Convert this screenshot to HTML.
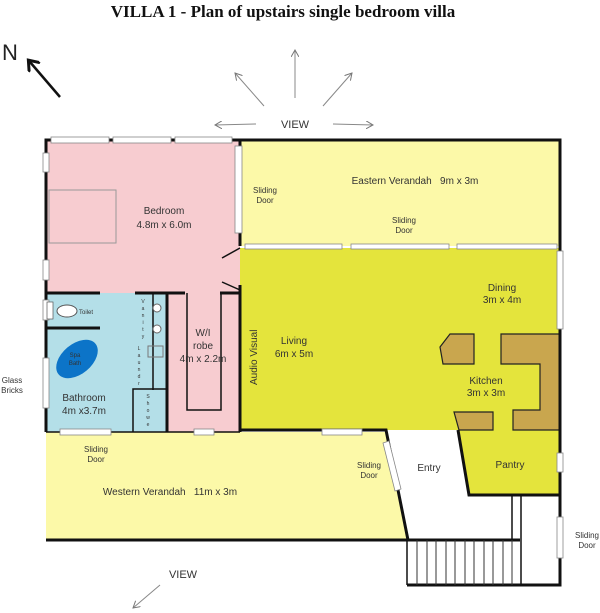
<!DOCTYPE html>
<html><head><style>
body{margin:0;background:#fff}
svg{display:block}
text{font-family:"Liberation Sans",sans-serif;fill:#333}
</style></head><body>
<svg width="600" height="613" viewBox="0 0 600 613">
<defs><marker id="a" markerWidth="8" markerHeight="8" refX="7" refY="4" orient="auto"><path d="M0,0 L7,4 L0,8" fill="none" stroke="#777" stroke-width="1"/></marker>
<marker id="b" markerWidth="6" markerHeight="6" refX="3" refY="3" orient="auto"><path d="M0,0 L4,3 L0,6" fill="none" stroke="#111" stroke-width="1.2"/></marker></defs>
<text x="283" y="17" text-anchor="middle" style="font-family:'Liberation Serif',serif;font-weight:bold;font-size:17px;fill:#111">VILLA 1 - Plan of upstairs single bedroom villa</text>
<text x="2" y="60" style="font-size:22px;fill:#222">N</text>
<line x1="60" y1="97" x2="30" y2="62" stroke="#111" stroke-width="2.5" marker-end="url(#b)"/>
<g stroke="#888" stroke-width="1" fill="none">
<line x1="295" y1="98" x2="295" y2="50" marker-end="url(#a)"/>
<line x1="264" y1="106" x2="235" y2="73" marker-end="url(#a)"/>
<line x1="323" y1="106" x2="352" y2="73" marker-end="url(#a)"/>
<line x1="256" y1="124" x2="215" y2="125" marker-end="url(#a)"/>
<line x1="333" y1="124" x2="373" y2="125" marker-end="url(#a)"/>
<line x1="160" y1="585" x2="133" y2="608" marker-end="url(#a)"/>
</g>
<text x="295" y="128" text-anchor="middle" font-size="11">VIEW</text>
<text x="183" y="578" text-anchor="middle" font-size="11">VIEW</text>
<!-- fills -->
<rect x="240" y="140" width="320" height="106" fill="#fcf9a8"/>
<rect x="46" y="140" width="194" height="153" fill="#f7ccd0"/>
<rect x="167" y="293" width="73" height="139" fill="#f7ccd0"/>
<rect x="46" y="293" width="121" height="139" fill="#b4dfe8"/>
<polygon points="240,248 560,248 560,430 240,430" fill="#e4e43c"/>
<polygon points="458,430 560,430 560,495 469,495" fill="#e4e43c"/>
<polygon points="386,432 458,430 469,495 512,495 512,540 408,540" fill="#fff"/>
<polygon points="46,432 386,432 408,540 46,540" fill="#fcf9a8"/>
<!-- benches -->
<g fill="#c9a64e" stroke="#222" stroke-width="1.2">
<polygon points="440,347 450,334 474,334 474,364 443,364"/>
<polygon points="501,334 560,334 560,430 513,430 513,410 540,410 540,364 501,364"/>
<polygon points="454,412 493,412 493,430 459,430"/>
</g>
<!-- walls -->
<g stroke="#111" fill="none" stroke-width="3">
<polyline points="46,432 46,140 560,140 560,585 407,585"/>
<line x1="240" y1="140" x2="240" y2="246"/>
<line x1="240" y1="285" x2="240" y2="432"/>
<line x1="46" y1="293" x2="100" y2="293"/>
<line x1="135" y1="293" x2="185" y2="293"/>
<line x1="167" y1="293" x2="167" y2="432"/>
<line x1="220" y1="293" x2="240" y2="293"/>
<line x1="46" y1="328" x2="100" y2="328"/>
<polyline points="240,430 386,430 408,540"/>
<polyline points="458,430 469,495 560,495" />
<line x1="46" y1="540" x2="520" y2="540"/>
</g>
<g stroke="#111" stroke-width="1.5" fill="none">
<line x1="46" y1="432" x2="240" y2="432"/>
<line x1="222" y1="258" x2="240" y2="248"/>
<line x1="222" y1="282" x2="240" y2="290"/>
<polyline points="187,293 187,410 221,410 221,293"/>
<line x1="153" y1="293" x2="153" y2="390"/>
<polyline points="133,432 133,389 167,389"/>
<line x1="512" y1="495" x2="512" y2="540"/>
<line x1="521" y1="495" x2="521" y2="585"/>
<rect x="49" y="190" width="67" height="53" stroke="#999" stroke-width="1"/>
<rect x="148" y="346" width="15" height="11" stroke="#777" stroke-width="1"/>
<line x1="407" y1="540" x2="407" y2="585"/>
</g>
<g stroke="#333" stroke-width="1">
<line x1="417" y1="540" x2="417" y2="585"/><line x1="427" y1="540" x2="427" y2="585"/><line x1="436" y1="540" x2="436" y2="585"/><line x1="446" y1="540" x2="446" y2="585"/><line x1="455" y1="540" x2="455" y2="585"/><line x1="465" y1="540" x2="465" y2="585"/><line x1="474" y1="540" x2="474" y2="585"/><line x1="484" y1="540" x2="484" y2="585"/><line x1="493" y1="540" x2="493" y2="585"/><line x1="503" y1="540" x2="503" y2="585"/><line x1="512" y1="540" x2="512" y2="585"/>
</g>
<!-- windows -->
<g fill="#fff" stroke="#888" stroke-width="0.8">
<rect x="51" y="137" width="58" height="6"/><rect x="113" y="137" width="58" height="6"/><rect x="175" y="137" width="57" height="6"/>
<rect x="43" y="153" width="6" height="19"/><rect x="43" y="260" width="6" height="20"/><rect x="43" y="300" width="6" height="20"/><rect x="43" y="358" width="6" height="50"/>
<rect x="235" y="146" width="7" height="87"/>
<rect x="245" y="244" width="97" height="5"/><rect x="351" y="244" width="98" height="5"/><rect x="457" y="244" width="100" height="5"/>
<rect x="557" y="251" width="6" height="78"/><rect x="557" y="453" width="6" height="19"/><rect x="557" y="517" width="6" height="41"/>
<rect x="60" y="429" width="51" height="6"/><rect x="194" y="429" width="20" height="6"/><rect x="322" y="429" width="40" height="6"/>
<polygon points="383,443 389,441 401,489 395,491"/>
</g>
<ellipse cx="67" cy="311" rx="10" ry="6" fill="#fff" stroke="#555"/>
<rect x="47" y="302" width="6" height="17" fill="#fff" stroke="#555" stroke-width="0.7"/>
<circle cx="157" cy="308" r="4" fill="#fff" stroke="#666"/><circle cx="157" cy="329" r="4" fill="#fff" stroke="#666"/>
<ellipse cx="77" cy="359" rx="24" ry="15" transform="rotate(-40 77 359)" fill="#0c74c8"/>
<!-- labels -->
<g font-size="10" text-anchor="middle">
<text x="164" y="214">Bedroom</text><text x="164" y="228">4.8m x 6.0m</text>
<text x="265" y="193" font-size="8">Sliding</text><text x="265" y="203" font-size="8">Door</text>
<text x="415" y="184">Eastern Verandah&#160;&#160; 9m x 3m</text>
<text x="404" y="223" font-size="8">Sliding</text><text x="404" y="233" font-size="8">Door</text>
<text x="502" y="291">Dining</text><text x="502" y="303">3m x 4m</text>
<text x="294" y="344">Living</text><text x="294" y="357">6m x 5m</text>
<text x="486" y="384">Kitchen</text><text x="486" y="396">3m x 3m</text>
<text x="510" y="468">Pantry</text>
<text x="429" y="471">Entry</text>
<text x="369" y="468" font-size="8">Sliding</text><text x="369" y="478" font-size="8">Door</text>
<text x="96" y="452" font-size="8">Sliding</text><text x="96" y="462" font-size="8">Door</text>
<text x="170" y="495">Western Verandah&#160;&#160; 11m x 3m</text>
<text x="203" y="336">W/I</text><text x="203" y="349">robe</text><text x="203" y="362">4m x 2.2m</text>
<text x="84" y="401">Bathroom</text><text x="84" y="414">4m x3.7m</text>
<text x="12" y="383" font-size="8">Glass</text><text x="12" y="393" font-size="8">Bricks</text>
<text x="587" y="538" font-size="8">Sliding</text><text x="587" y="548" font-size="8">Door</text>
<text x="75" y="357" font-size="6" fill="#222">Spa</text><text x="75" y="365" font-size="6" fill="#222">Bath</text>
</g>
<text x="79" y="314" font-size="6">Toilet</text>
<text transform="translate(257,385) rotate(-90)" font-size="10">Audio Visual</text>
<g font-size="5" text-anchor="middle" fill="#555"><text x="143" y="303">V</text><text x="143" y="310">a</text><text x="143" y="317">n</text><text x="143" y="324">i</text><text x="143" y="331">t</text><text x="143" y="338">y</text>
<text x="139" y="350">L</text><text x="139" y="357">a</text><text x="139" y="364">u</text><text x="139" y="371">n</text><text x="139" y="378">d</text><text x="139" y="385">r</text>
<text x="148" y="398">S</text><text x="148" y="405">h</text><text x="148" y="412">o</text><text x="148" y="419">w</text><text x="148" y="426">e</text></g>
</svg>
</body></html>
